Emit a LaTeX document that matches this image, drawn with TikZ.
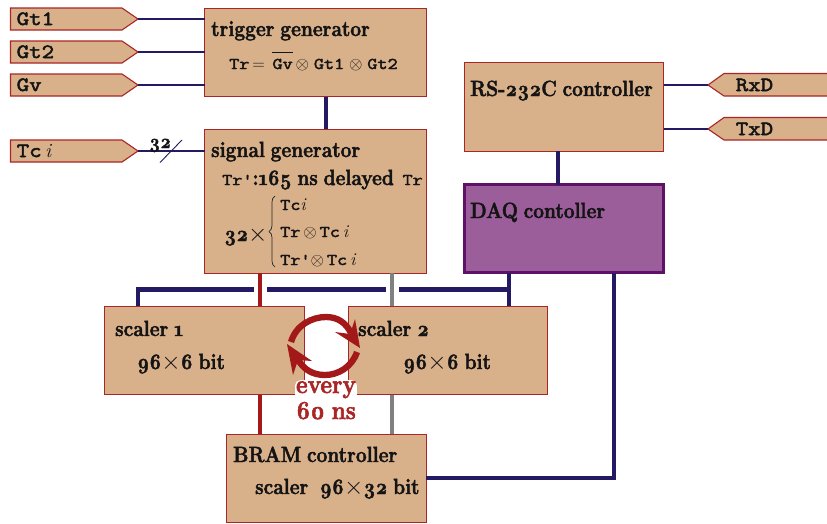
\documentclass[tikz,border=0pt]{standalone}
\usepackage{fontspec}
\setmainfont{Latin Modern Roman}[Numbers=OldStyle,BoldFeatures={FakeStretch=0.87,FakeBold=2},WordSpace=0.8]
\newfontfamily\monof{Latin Modern Mono}[FakeStretch=1.2,FakeBold=2.6]
\usetikzlibrary{decorations.pathreplacing}
\definecolor{tanfill}{HTML}{D8B08A}
\definecolor{boxred}{HTML}{AA2525}
\definecolor{navyl}{HTML}{241A63}
\definecolor{redl}{HTML}{A31818}
\definecolor{purp}{HTML}{9C5E9A}
\definecolor{purpb}{HTML}{5F1068}
\newcommand{\mt}[1]{{\fontsize{16.4}{18}\selectfont\monof\mdseries #1}}
\newcommand{\itl}{{\normalfont\rmfamily\itshape i}}
\newcommand{\bigx}{{\fontsize{25}{26}\selectfont$\times$}}
\tikzset{
  blk/.style={draw=boxred,fill=tanfill,line width=1pt,inner sep=0pt,outer sep=0pt,anchor=north west,rectangle},
  daqblk/.style={blk,draw=purpb,fill=purp,line width=2.6pt},
  pent/.style={draw=boxred,fill=tanfill,line width=1.1pt,line join=miter},
  txt/.style={anchor=base west,inner sep=0pt,font=\fontsize{22}{24}\selectfont\bfseries,text=black!92},
  sub/.style={txt,font=\fontsize{20}{22}\selectfont\bfseries},
  form/.style={anchor=base west,inner sep=0pt,font=\fontsize{18}{20}\selectfont,text=black!92},
  plabel/.style={anchor=base west,inner sep=0pt,font=\fontsize{20.2}{22}\selectfont\monof\mdseries,text=black!92},
  thinsig/.style={navyl,line width=2pt},
  bus/.style={navyl,line width=4.2pt},
  redbus/.style={redl,line width=4.5pt},
  graybus/.style={gray,line width=4.2pt},
  gapw/.style={white,line width=13pt},
  cyc/.style={redl,line width=6.3pt},
  cychead/.style={fill=redl,draw=none},
  evt/.style={anchor=base,inner sep=0pt,font=\fontsize{26}{28}\selectfont\bfseries,text=boxred},
}
\begin{document}
\begin{tikzpicture}[x=1pt,y=-1pt]
\useasboundingbox (0,0) rectangle (827,523);
% coordinates of pentagon tips
\coordinate (gt1tip) at (138,19);
\coordinate (gt2tip) at (138,52);
\coordinate (gvtip) at (138,85);
\coordinate (tctip) at (138,151);
\coordinate (rxtip) at (708,85);
\coordinate (txtip) at (708,129);
% boxes
\node[blk,minimum width=221.5pt,minimum height=88.5pt] (trig) at (204.5,8) {};
\node[blk,minimum width=221.5pt,minimum height=144pt] (sig) at (204.5,129) {};
\node[blk,minimum width=199.5pt,minimum height=88.5pt] (rs) at (464,62.7) {};
\node[daqblk,minimum width=199pt,minimum height=88pt] (daq) at (464.6,184.6) {};
\node[blk,minimum width=199.5pt,minimum height=88.5pt] (sc1) at (104.7,306) {};
\node[blk,minimum width=199.5pt,minimum height=88.5pt] (sc2) at (348,306) {};
\node[blk,minimum width=199.5pt,minimum height=88.5pt] (bram) at (226.7,434) {};
% pentagons
\draw[pent] (10.5,8) -- (122,8) -- (gt1tip) -- (122,30) -- (10.5,30) -- cycle;
\draw[pent] (10.5,41) -- (122,41) -- (gt2tip) -- (122,63) -- (10.5,63) -- cycle;
\draw[pent] (10.5,74) -- (122,74) -- (gvtip) -- (122,96) -- (10.5,96) -- cycle;
\draw[pent] (10.5,140) -- (122,140) -- (tctip) -- (122,162) -- (10.5,162) -- cycle;
\draw[pent] (832,73.5) -- (724,73.5) -- (rxtip) -- (724,96) -- (832,96) -- cycle;
\draw[pent] (832,117.5) -- (724,117.5) -- (txtip) -- (724,140) -- (832,140) -- cycle;
% thin signals
\draw[thinsig] (gt1tip) -- (gt1tip -| trig.west);
\draw[thinsig] (gt2tip) -- (gt2tip -| trig.west);
\draw[thinsig] (gvtip) -- (gvtip -| trig.west);
\draw[thinsig] (tctip) -- (tctip -| sig.west);
\draw[thinsig] (rxtip) -- (rxtip -| rs.east);
\draw[thinsig] (txtip) -- (txtip -| rs.east);
\coordinate (sl1) at (160,162.5);
\coordinate (sl2) at (182,140);
\draw[navyl,line width=0.9pt] (sl1) -- (sl2);
% buses
\coordinate (xa) at (138,289.5);
\coordinate (xb) at (509,289.5);
\coordinate (xr) at (260,289.5);
\coordinate (xg) at (392,289.5);
\coordinate (xd) at (614,478);
\draw[bus] (trig.south -| 326,0) -- (sig.north -| 326,0);
\draw[bus] (rs.south -| 558,0) -- (daq.north -| 558,0);
\draw[bus,line join=miter] (xa |- sc1.north) -- (xa) -- (xb);
\draw[bus] (xb |- daq.south) -- (xb |- sc2.north);
\draw[bus,line join=miter] (xd |- daq.south) -- (xd) -- (xd -| bram.east);
\draw[gapw] (260,282) -- (260,297);
\draw[gapw] (392,282) -- (392,297);
\draw[redbus] (xr |- sig.south) -- (xr |- sc1.north);
\draw[redbus] (xr |- sc1.south) -- (xr |- bram.north);
\draw[graybus] (xg |- sig.south) -- (xg |- sc2.north);
\draw[graybus] (xg |- sc2.south) -- (xg |- bram.north);
% labels in pentagons
\node[plabel] (l1) at (16.5,25) {Gt1};
\node[plabel] (l2) at (16.5,58) {Gt2};
\node[plabel] (l3) at (16.5,91) {Gv};
\node[plabel] (l4) at (16.5,157) {Tc\,\itl};
\node[plabel] (l5) at (735.5,91) {RxD};
\node[plabel] (l6) at (735.5,135) {TxD};
\node[sub] (n32) at (149,148) {32};
% box texts
\node[txt] (t1) at (211,36) {trigger generator};
\node[form] (t2) at (229,69) {\mt{Tr}$\,=\,\overline{\hbox{\rule{0pt}{15pt}\mt{Gv}}}\,\otimes\;$\mt{Gt1}$\;\otimes\;$\mt{Gt2}};
\node[txt] (t3) at (211,157) {signal generator};
\node[txt] (t4) at (222,185) {\mt{Tr'}:165 ns delayed\hspace{3pt} \mt{Tr}};
\node[form] (t5) at (280,210) {\mt{Tc}\textit{i}};
\node[form] (t6) at (280,237) {\mt{Tr}$\,\otimes\,$\mt{Tc}\,\textit{i}};
\node[form] (t7) at (280,265) {\mt{Tr'}$\otimes\,$\mt{Tc}\,\textit{i}};
\node[txt] (t8) at (224,241) {32\bigx};
\draw[line width=0.7pt,black!85,decorate,decoration={brace,amplitude=6pt}] (275,267) -- (275,196);
\node[txt] (t9) at (470,96) {RS-232C controller};
\node[txt] (t10) at (470,218) {DAQ contoller};
\node[txt] (t11) at (115,336) {scaler 1};
\node[txt] (t12) at (137,369) {96\bigx{}6 bit};
\node[txt] (t13) at (358,336) {scaler 2};
\node[txt] (t14) at (403,369) {96\bigx{}6 bit};
\node[txt] (t15) at (233,462) {BRAM controller};
\node[txt] (t16) at (255,494) {scaler\ \ 96\bigx{}32 bit};
% every 60 ns
\node[evt,fill=white,rounded corners=5pt,inner sep=1pt] (ev) at (326,393) {every};
\node[evt] (ns) at (326,419) {60 ns};
% cycle arrows
\draw[cyc] (291,342) .. controls (296,325) and (312,317) .. (326,317) .. controls (338,317) and (346,323) .. (351,333);
\fill[cychead] (360,348) -- (355,319) -- (350,334) -- (335,332) -- cycle;
\draw[cyc] (357,352) .. controls (352,367) and (338,375) .. (325,375) .. controls (312,375) and (303,369) .. (297,358);
\fill[cychead] (287,344) -- (293,375) -- (298,360) -- (312,361) -- cycle;
\end{tikzpicture}
\end{document}
